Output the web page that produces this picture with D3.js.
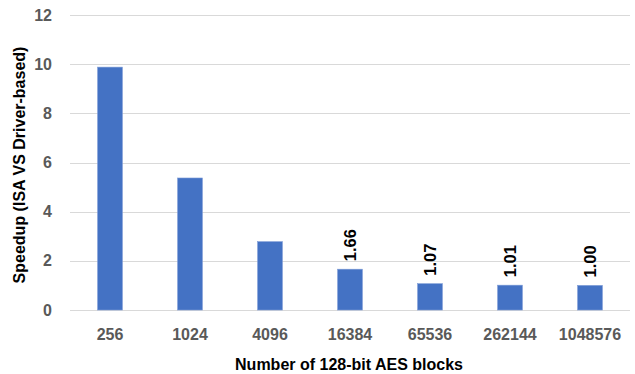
<!DOCTYPE html>
<html>
<head>
<meta charset="utf-8">
<script src="https://cdn.jsdelivr.net/npm/d3@7"></script>
<style>
  html, body { margin: 0; padding: 0; background: #fff; }
  svg { display: block; }
</style>
</head>
<body>
<svg id="chart" width="635" height="374"></svg>
<script>
// Speedup of ISA-based AES over the driver-based path, by block count
const categories = ["256", "1024", "4096", "16384", "65536", "262144", "1048576"];
const speedup = [9.88, 5.37, 2.78, 1.66, 1.07, 1.01, 1.00];
const labelled = [false, false, false, true, true, true, true];
const yTicks = [0, 2, 4, 6, 8, 10, 12];

const fontFamily = "'Liberation Sans', 'Noto Sans', sans-serif";
const svg = d3.select("#chart");

const x = d3.scaleBand().domain(categories).range([70, 630]).paddingInner(0.69).paddingOuter(0.345);
const y = d3.scaleLinear().domain([0, 12]).range([310, 15]);

// Gridlines
svg.append("g")
  .selectAll("line")
  .data(yTicks)
  .join("line")
  .attr("x1", 70).attr("x2", 630)
  .attr("y1", d => Math.round(y(d)) + 0.5)
  .attr("y2", d => Math.round(y(d)) + 0.5)
  .attr("stroke", "#d9d9d9")
  .attr("stroke-width", 1);

// Y axis labels
const yAxis = d3.axisLeft(y).tickValues(yTicks).tickSize(0).tickPadding(0);
svg.append("g")
  .attr("transform", "translate(52,0)")
  .call(yAxis)
  .call(g => g.select(".domain").remove())
  .call(g => g.selectAll("text")
    .attr("fill", "#595959")
    .attr("font-family", fontFamily)
    .attr("font-size", 16)
    .attr("font-weight", "bold"));

// X axis labels
const xAxis = d3.axisBottom(x).tickSize(0).tickPadding(0);
svg.append("g")
  .attr("transform", "translate(0,329)")
  .call(xAxis)
  .call(g => g.select(".domain").remove())
  .call(g => g.selectAll("text")
    .attr("fill", "#595959")
    .attr("font-family", fontFamily)
    .attr("font-size", 16)
    .attr("font-weight", "bold"));

// Bars
svg.append("g")
  .selectAll("rect")
  .data(categories)
  .join("rect")
  .attr("x", d => x(d))
  .attr("width", x.bandwidth())
  .attr("y", (d, i) => y(speedup[i]))
  .attr("height", (d, i) => y(0) - y(speedup[i]))
  .attr("fill", "#4472c4")
  .attr("stroke", "#7c9bd6")
  .attr("stroke-width", 0.6);

// Value labels, rotated above bars
svg.append("g")
  .selectAll("text")
  .data(categories.filter((d, i) => labelled[i]))
  .join("text")
  .attr("transform", d => {
    const i = categories.indexOf(d);
    const cx = x(d) + x.bandwidth() / 2;
    return `translate(${cx + 6},${y(speedup[i]) - 8}) rotate(-90)`;
  })
  .attr("text-anchor", "start")
  .attr("font-family", fontFamily)
  .attr("font-size", 16.5)
  .attr("font-weight", "bold")
  .attr("fill", "#000")
  .text(d => d3.format(".2f")(speedup[categories.indexOf(d)]));

// Axis titles
svg.append("text")
  .attr("x", 349).attr("y", 370)
  .attr("text-anchor", "middle")
  .attr("font-family", fontFamily)
  .attr("font-size", 16)
  .attr("font-weight", "bold")
  .attr("fill", "#000")
  .text("Number of 128-bit AES blocks");

svg.append("text")
  .attr("transform", "translate(25,165) rotate(-90)")
  .attr("text-anchor", "middle")
  .attr("font-family", fontFamily)
  .attr("font-size", 16)
  .attr("font-weight", "bold")
  .attr("fill", "#000")
  .text("Speedup (ISA VS Driver-based)");
</script>
</body>
</html>
